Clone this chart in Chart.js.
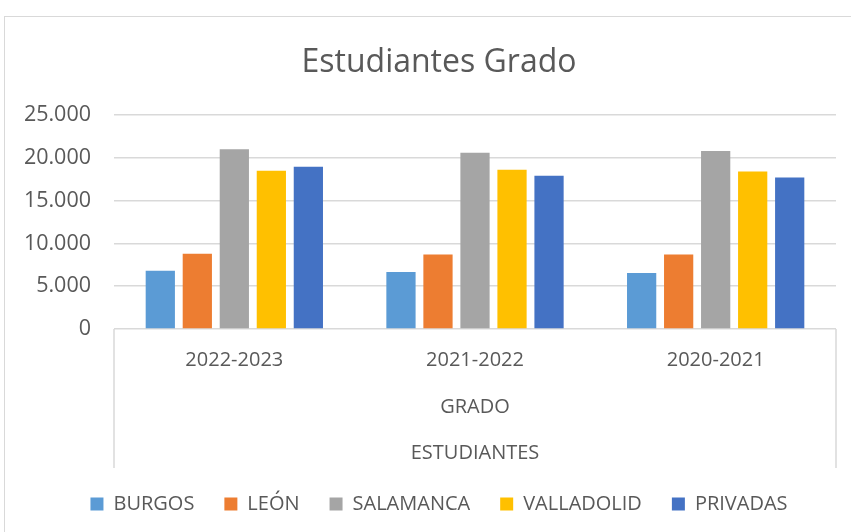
<!DOCTYPE html>
<html>
<head>
<meta charset="utf-8">
<script src="https://cdn.jsdelivr.net/npm/chart.js@4.4.1/dist/chart.umd.min.js"></script>
<style>
   html, body { margin: 0; padding: 0; background: #fff; overflow: hidden; width: 851px; height: 532px; }
   #frame { position: absolute; left: 4px; top: 16px; width: 900px; height: 600px; border: 1px solid #d9d9d9; }
   #chart { position: absolute; left: 0; top: 0; }
</style>
</head>
<body>
<div id="frame"></div>
<canvas id="chart" width="878" height="532"></canvas>
<script>
// data
const categories = ['2022-2023', '2021-2022', '2020-2021'];
const groupLabels = ['GRADO', 'ESTUDIANTES'];
const seriesNames = ['BURGOS', 'LEÓN', 'SALAMANCA', 'VALLADOLID', 'PRIVADAS'];
const seriesColors = ['#5B9BD5', '#ED7D31', '#A5A5A5', '#FFC000', '#4472C4'];
const burgos = [6800, 6650, 6550];
const leon = [8800, 8700, 8700];
const salamanca = [21000, 20600, 20800];
const valladolid = [18500, 18600, 18400];
const privadas = [18950, 17900, 17700];
const yMax = 25000;
const yStep = 5000;

const seriesValues = [burgos, leon, salamanca, valladolid, privadas];
const textColor = '#595959';
const gridColor = '#d9d9d9';
const fontFamily = "'Open Sans', 'Noto Sans', sans-serif";

// outer vertical lines of the multi-level category axis (Excel style)
const groupEdges = {
   id: 'groupEdges',
   afterDraw: (chart) => {
      const xs = chart.scales.x;
      const ctx = chart.ctx;
      ctx.save();
      ctx.strokeStyle = gridColor;
      ctx.lineWidth = 1.5;
      ctx.beginPath();
      [xs.left, xs.right].forEach((px) => {
         ctx.moveTo(px, xs.top);
         ctx.lineTo(px, xs.bottom + 4);
      });
      ctx.stroke();
      ctx.restore();
   }
};

Chart.defaults.color = textColor;
Chart.defaults.font.family = fontFamily;

new Chart(document.getElementById('chart'), {
   type: 'bar',
   data: {
      labels: categories,
      datasets: seriesNames.map((name, i) => ({
         label: name,
         data: seriesValues[i],
         backgroundColor: seriesColors[i],
         borderWidth: 0,
         categoryPercentage: 0.769,
         barPercentage: 0.79
      }))
   },
   plugins: [groupEdges],
   options: {
      responsive: false,
      animation: false,
      events: [],
      layout: { padding: { left: 0, right: 0, top: 0, bottom: 8 } },
      plugins: {
         title: {
            display: true,
            text: 'Estudiantes Grado',
            color: textColor,
            font: { size: 32, weight: 'normal', lineHeight: 1.2 },
            padding: { top: 44, bottom: 32.6 }
         },
         legend: {
            position: 'bottom',
            labels: {
               boxWidth: 13,
               boxHeight: 13,
               padding: 30,
               color: textColor,
               font: { size: 20 }
            }
         },
         tooltip: { enabled: false }
      },
      scales: {
         y: {
            min: 0,
            max: yMax,
            afterFit: (scale) => { scale.width = 114; },
            border: { display: false },
            grid: { color: gridColor, lineWidth: 1.5, drawTicks: false },
            ticks: {
               stepSize: yStep,
               padding: 23,
               font: { size: 21.5 },
               color: textColor,
               callback: (v) => v.toLocaleString('de-DE')
            }
         },
         // empty right-hand axis, only keeps the plot clear of the right edge
         yRight: {
            position: 'right',
            display: true,
            afterFit: (scale) => { scale.width = 42; },
            border: { display: false },
            grid: { display: false, drawTicks: false },
            ticks: { display: false }
         },
         x: {
            afterFit: (scale) => { scale.height = 135; },
            border: { display: false },
            grid: { display: false, drawTicks: false },
            ticks: { padding: 19, font: { size: 20 }, color: textColor },
            title: {
               display: true,
               text: groupLabels,
               color: textColor,
               font: { size: 20, lineHeight: 2.3 },
               padding: { top: 0, bottom: -12 }
            }
         }
      }
   }
});
</script>
</body>
</html>
